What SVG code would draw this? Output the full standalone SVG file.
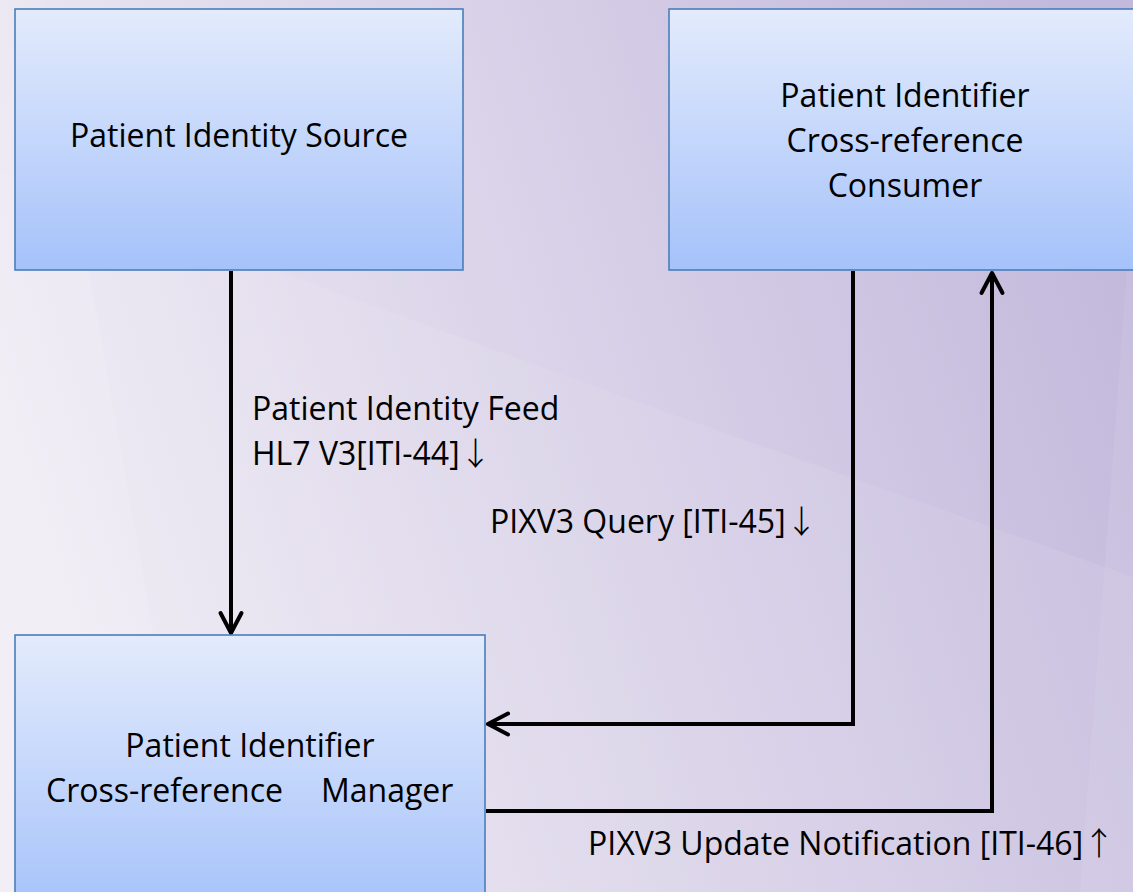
<svg xmlns="http://www.w3.org/2000/svg" width="1133" height="892" viewBox="0 0 1133 892">
<style>
.box{stroke:#4a7ebb;stroke-width:1.6;fill:url(#boxg)}
.t{font-family:"Open Sans","Liberation Sans",sans-serif;font-size:32px;fill:#000}
.c{text-anchor:middle}
.ar{font-family:"Noto Sans CJK SC","DejaVu Sans",sans-serif;font-weight:300}
.conn{fill:none;stroke:#000;stroke-width:4;stroke-linejoin:miter}
</style>
<defs>
<linearGradient id="boxg" x1="0" y1="0" x2="0" y2="1">
<stop offset="0" stop-color="#e3ebfc"/>
<stop offset="1" stop-color="#a5c2fa"/>
</linearGradient>
<linearGradient id="bg" x1="0" y1="0.55" x2="1" y2="0.3">
<stop offset="0" stop-color="#efecf4"/>
<stop offset="0.45" stop-color="#dcd5ea"/>
<stop offset="1" stop-color="#c3b9dc"/>
</linearGradient>
<marker id="ah" markerUnits="userSpaceOnUse" viewBox="-26 -14 30 28" markerWidth="30" markerHeight="28" refX="0" refY="0" orient="auto">
<path d="M-20,-10.5 L0,0 L-20,10.5" fill="none" stroke="#000" stroke-width="4" stroke-linecap="round" stroke-linejoin="round"/>
</marker>
</defs>
<g id="background">
<rect width="1133" height="892" fill="url(#bg)"/>
<path d="M0,170 L660,410 L1133,577 L1133,892 L0,892 Z" fill="#ffffff" opacity="0.08"/>
<path d="M0,0 L40,0 L200,892 L0,892 Z" fill="#ffffff" opacity="0.12"/>
<path d="M1127,270 L1133,270 L1133,892 L1080,892 Z" fill="#ffffff" opacity="0.08"/>
</g>
<g id="connectors">
<path class="conn" d="M231,271 V633" marker-end="url(#ah)"/>
<path class="conn" d="M853,271 V724 H488" marker-end="url(#ah)"/>
<path class="conn" d="M486,811 H992 V273" marker-end="url(#ah)"/>
<text class="t" x="252" y="420">Patient Identity Feed</text>
<text class="t" x="252" y="465">HL7 V3[ITI-44]<tspan class="ar">↓</tspan></text>
<text class="t" x="490" y="533">PIXV3 Query [ITI-45]<tspan class="ar">↓</tspan></text>
<text class="t" x="588" y="855">PIXV3 Update Notification [ITI-46]<tspan class="ar">↑</tspan></text>
</g>
<g id="node-source">
<rect class="box" x="15" y="9" width="448" height="261"/>
<text class="t c" x="239" y="147">Patient Identity Source</text>
</g>
<g id="node-consumer">
<rect class="box" x="669" y="9" width="480" height="261"/>
<text class="t c" x="905" y="107">Patient Identifier</text>
<text class="t c" x="905" y="152">Cross-reference</text>
<text class="t c" x="905" y="197">Consumer</text>
</g>
<g id="node-manager">
<rect class="box" x="15" y="635" width="470" height="280"/>
<text class="t c" x="250" y="757">Patient Identifier</text>
<text class="t" y="802"><tspan x="46">Cross-reference</tspan><tspan x="321">Manager</tspan></text>
</g>
</svg>
